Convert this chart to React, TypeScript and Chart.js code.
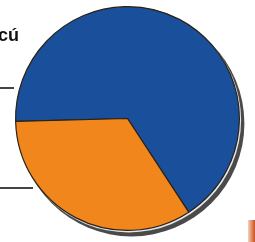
import React, { useEffect, useRef } from "react";
import { Chart, registerables } from "chart.js";

Chart.register(...registerables);

const categories = ["A", "B"];
const values = [66.2, 33.8];
const colors = ["#1a4f9c", "#f0861c"];
const fragmentText = "cú";

const shadowPlugin = {
  id: "pieShadow",
  beforeDatasetsDraw(chart: any) {
    const meta = chart.getDatasetMeta(0);
    const arc = meta.data[0];
    if (!arc) return;
    const { x, y, outerRadius } = arc.getProps(["x", "y", "outerRadius"], true);
    const ctx = chart.ctx;
    ctx.save();
    ctx.fillStyle = "#4a4a4a";
    ctx.beginPath();
    ctx.arc(x + 4, y + 5, outerRadius + 1, 0, Math.PI * 2);
    ctx.fill();
    ctx.fillStyle = "#e4e8ee";
    ctx.beginPath();
    ctx.arc(x + 1.2, y + 1.6, outerRadius + 0.5, 0, Math.PI * 2);
    ctx.fill();
    ctx.restore();
  },
};

export default function App() {
  const ref = useRef<HTMLCanvasElement>(null);
  useEffect(() => {
    document.body.style.margin = "0";
    const chart = new Chart(ref.current!, {
      type: "pie",
      data: {
        labels: categories,
        datasets: [
          {
            data: values,
            backgroundColor: colors,
            borderColor: "#2b2216",
            borderWidth: 1.2,
          },
        ],
      },
      options: {
        animation: false,
        responsive: false,
        rotation: 268.5,
        layout: { padding: { left: 15, right: 15, top: 6, bottom: 11 } },
        plugins: { legend: { display: false }, tooltip: { enabled: false } },
      },
      plugins: [shadowPlugin],
    });
    return () => chart.destroy();
  }, []);
  return (
    <div style={{ position: "relative", width: 255, height: 242, background: "#fff", overflow: "hidden" }}>
      <canvas ref={ref} width={255} height={242} style={{ position: "absolute", left: 0, top: 0 }} />
      <span
        style={{
          position: "absolute",
          left: -2,
          top: 25,
          fontFamily: "'Liberation Sans', Arial, sans-serif",
          fontWeight: 700,
          fontSize: 18,
          color: "#111",
        }}
      >
        {fragmentText}
      </span>
      <div style={{ position: "absolute", left: 0, top: 87, width: 14, height: 2, background: "#444" }} />
      <div style={{ position: "absolute", left: 0, top: 187, width: 33, height: 2, background: "#444" }} />
      <div
        style={{
          position: "absolute",
          left: 248,
          top: 220,
          width: 7,
          height: 22,
          background: "linear-gradient(90deg, #f4d2b8, #c8501c)",
        }}
      />
    </div>
  );
}
